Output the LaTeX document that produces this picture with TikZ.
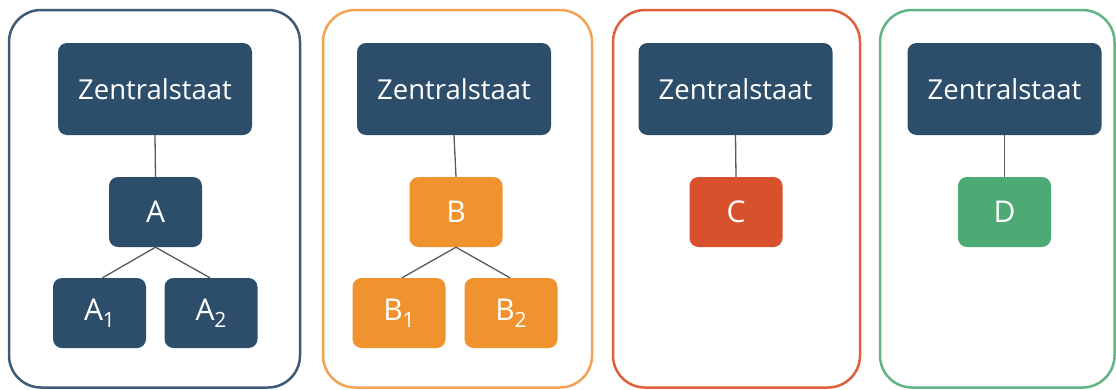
\documentclass[tikz,border=0pt]{standalone}
\usepackage{fontspec}
\setmainfont{Open Sans}
\definecolor{navy}{HTML}{2C4E6A}
\definecolor{navyline}{HTML}{3D5B77}
\definecolor{orng}{HTML}{F0922E}
\definecolor{orngline}{HTML}{F2A456}
\definecolor{rd}{HTML}{D9512C}
\definecolor{rdline}{HTML}{E0603E}
\definecolor{grn}{HTML}{4DAA74}
\definecolor{grnline}{HTML}{63B485}
\definecolor{conn}{HTML}{555A60}
\newcommand{\subidx}[1]{\raisebox{-0.22em}{\fontsize{21}{22}\selectfont #1}}
\begin{document}
\begin{tikzpicture}[x=1pt,y=-1pt,
  frame/.style={line width=2.5pt, rounded corners=32pt},
  zs/.style={fill=navy, rounded corners=9pt, minimum width=194pt, minimum height=92pt, text=white, font=\fontsize{27.5}{30}\selectfont, inner sep=0pt},
  mid/.style={rounded corners=9pt, minimum width=93pt, minimum height=70pt, text=white, font=\fontsize{30}{32}\selectfont, inner sep=0pt},
  leaf/.style={rounded corners=9pt, minimum width=93pt, minimum height=70pt, text=white, font=\fontsize{30}{32}\selectfont, inner sep=0pt},
  link/.style={draw=conn, line width=1.3pt}]
\useasboundingbox (0,0) rectangle (1116,389);
\fill[white] (0,0) rectangle (1116,389);
% frames
\draw[frame, draw=navyline] (9,10) rectangle (300,387.5);
\draw[frame, draw=orngline] (323,10) rectangle (592,387.5);
\draw[frame, draw=rdline] (613,10) rectangle (860,387.5);
\draw[frame, draw=grnline] (880,10) rectangle (1114.5,387.5);
% panel 1
\node[zs] (z1) at (155,89) {Zentralstaat};
\node[mid, fill=navy] (a) at (155.5,212) {A};
\node[leaf, fill=navy] (a1) at (99.5,313) {A\subidx{1}};
\node[leaf, fill=navy] (a2) at (211,313) {A\subidx{2}};
% panel 2
\node[zs] (z2) at (454,89) {Zentralstaat};
\node[mid, fill=orng] (b) at (456,212) {B};
\node[leaf, fill=orng] (b1) at (399,313) {B\subidx{1}};
\node[leaf, fill=orng] (b2) at (511,313) {B\subidx{2}};
% panel 3
\node[zs] (z3) at (735.5,89) {Zentralstaat};
\node[mid, fill=rd] (c) at (736,212) {C};
% panel 4
\node[zs] (z4) at (1004.5,89) {Zentralstaat};
\node[mid, fill=grn] (d) at (1004.5,212) {D};
% links
\draw[link] (z1.south) -- (a.north);
\draw[link] (a.south) -- ([xshift=3pt]a1.north);
\draw[link] (a.south) -- ([xshift=-1pt]a2.north);
\draw[link] (z2.south) -- (b.north);
\draw[link] (b.south) -- ([xshift=3pt]b1.north);
\draw[link] (b.south) -- ([xshift=-1pt]b2.north);
\draw[link] (z3.south) -- (c.north);
\draw[link] (z4.south) -- (d.north);
\end{tikzpicture}
\end{document}
